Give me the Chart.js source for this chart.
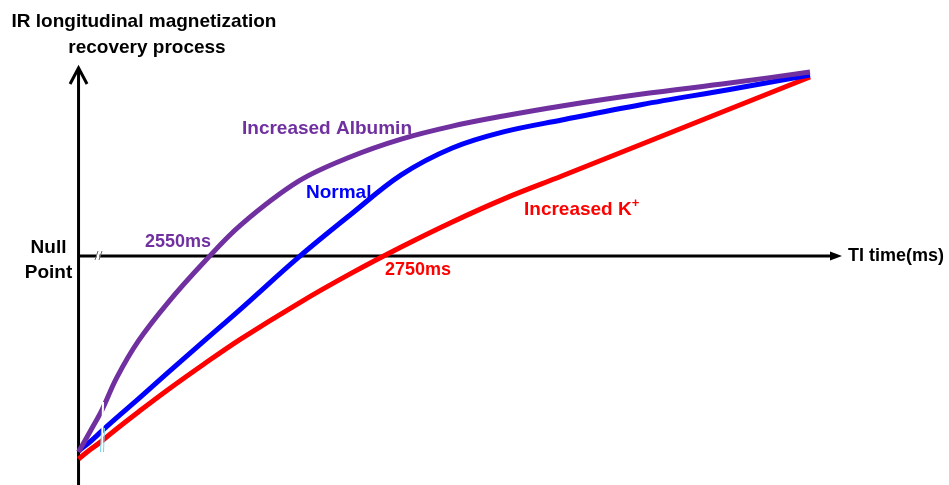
<!DOCTYPE html>
<html>
<head>
<meta charset="utf-8">
<script src="https://cdn.jsdelivr.net/npm/chart.js@4/dist/chart.umd.min.js"></script>
<style>
  html, body { margin: 0; padding: 0; background: #ffffff; }
  #wrap { width: 949px; height: 485px; position: relative; }
</style>
</head>
<body>
<div id="wrap"><canvas id="c" width="949" height="485"></canvas></div>
<script>
// TI time (arbitrary units, 0 = start of the axis, 100 = end of recovery shown)
const tiTime = [-0.2, 1.5, 3, 5, 8, 12, 17, 22, 30, 37, 44, 51, 58, 66, 77, 89, 100];
// Longitudinal magnetization (0 = null point, 1 = end of curves)
const albumin = [-1.071, -0.951, -0.842, -0.667, -0.464, -0.257, -0.033, 0.169, 0.410, 0.541, 0.639, 0.710, 0.765, 0.820, 0.885, 0.945, 1.005];
const normal  = [-1.066, -1.011, -0.956, -0.885, -0.781, -0.639, -0.464, -0.290, -0.005, 0.224, 0.443, 0.590, 0.678, 0.743, 0.828, 0.910, 0.989];
const kPlus   = [-1.109, -1.055, -1.011, -0.945, -0.852, -0.732, -0.590, -0.454, -0.257, -0.098, 0.049, 0.186, 0.311, 0.437, 0.612, 0.803, 0.978];

const seriesNames = ['Increased Albumin', 'Normal', 'Increased K'];
const nullLabels = ['2550ms', '2750ms'];

const PURPLE = '#7030A0', BLUE = '#0000FF', RED = '#FF0000';
const FONT = '"Liberation Sans", Arial, sans-serif';

function pts(ys) { return tiTime.map((x, i) => ({ x: x, y: ys[i] })); }

const decor = {
  id: 'decor',
  beforeDatasetsDraw(chart) {
    const ctx = chart.ctx, xs = chart.scales.x, ys = chart.scales.y;
    const x0 = xs.getPixelForValue(-0.2), y0 = ys.getPixelForValue(0);
    ctx.save();
    ctx.strokeStyle = '#000'; ctx.fillStyle = '#000';
    ctx.lineWidth = 3; ctx.lineCap = 'butt';
    // y axis
    ctx.beginPath(); ctx.moveTo(x0, chart.height); ctx.lineTo(x0, 68); ctx.stroke();
    // y arrow head (chevron)
    ctx.lineJoin = 'miter';
    ctx.beginPath(); ctx.moveTo(x0 - 8.5, 84); ctx.lineTo(x0, 68); ctx.lineTo(x0 + 8.5, 84); ctx.stroke();
    // x axis
    ctx.beginPath(); ctx.moveTo(x0, y0); ctx.lineTo(833, y0); ctx.stroke();
    ctx.beginPath(); ctx.moveTo(842, y0); ctx.lineTo(830, y0 - 4.5); ctx.lineTo(830, y0 + 4.5); ctx.closePath(); ctx.fill();
    // axis break //
    ctx.fillStyle = '#fff';
    ctx.fillRect(96.5, y0 - 3, 3, 6);
    ctx.strokeStyle = '#666'; ctx.lineWidth = 1;
    ctx.beginPath(); ctx.moveTo(95, y0 + 4); ctx.lineTo(98, y0 - 5); ctx.stroke();
    ctx.beginPath(); ctx.moveTo(99, y0 + 4); ctx.lineTo(102, y0 - 5); ctx.stroke();
    ctx.restore();
  },
  afterDatasetsDraw(chart) {
    const ctx = chart.ctx;
    ctx.save();
    // curve break
    ctx.fillStyle = '#fff';
    ctx.beginPath();
    ctx.moveTo(101, 455); ctx.lineTo(103, 455); ctx.lineTo(104, 402); ctx.lineTo(102, 402); ctx.closePath(); ctx.fill();
    ctx.strokeStyle = '#6fd6f0'; ctx.lineWidth = 1;
    ctx.beginPath(); ctx.moveTo(100.5, 452); ctx.lineTo(101.5, 428); ctx.stroke();
    ctx.beginPath(); ctx.moveTo(103.5, 452); ctx.lineTo(104.5, 428); ctx.stroke();

    ctx.textBaseline = 'alphabetic';
    // title
    ctx.fillStyle = '#000';
    ctx.font = 'bold 19px ' + FONT;
    ctx.textAlign = 'center';
    ctx.fillText('IR longitudinal magnetization', 144, 27);
    ctx.fillText('recovery process', 147, 53);
    ctx.fillText('Null', 48.5, 253);
    ctx.fillText('Point', 48.5, 278);
    ctx.textAlign = 'left';
    ctx.font = 'bold 18px ' + FONT;
    ctx.fillText('TI time(ms)', 848, 261);

    // series labels
    ctx.font = 'bold 19px ' + FONT;
    ctx.fillStyle = PURPLE; ctx.fillText(seriesNames[0], 242, 134);
    ctx.fillStyle = BLUE; ctx.fillText(seriesNames[1], 306, 198);
    ctx.fillStyle = RED; ctx.fillText(seriesNames[2], 524, 215);
    const w = ctx.measureText(seriesNames[2]).width;
    ctx.font = 'bold 13px ' + FONT;
    ctx.fillText('+', 524 + w, 207);

    ctx.font = 'bold 18px ' + FONT;
    ctx.fillStyle = PURPLE; ctx.fillText(nullLabels[0], 145, 247);
    ctx.fillStyle = RED; ctx.fillText(nullLabels[1], 385, 275);
    ctx.restore();
  }
};

new Chart(document.getElementById('c'), {
  type: 'line',
  data: {
    datasets: [
      { label: seriesNames[0], data: pts(albumin), borderColor: PURPLE, order: 1 },
      { label: seriesNames[1], data: pts(normal), borderColor: BLUE, order: 2 },
      { label: seriesNames[2], data: pts(kPlus), borderColor: RED, order: 3 }
    ]
  },
  options: {
    responsive: false,
    devicePixelRatio: 1,
    animation: false,
    layout: { padding: 0 },
    elements: {
      line: { borderWidth: 5, tension: 0.35, fill: false, borderCapStyle: 'butt' },
      point: { radius: 0, hoverRadius: 0 }
    },
    scales: {
      x: { type: 'linear', min: -10.959, max: 119.041, display: false },
      y: { type: 'linear', min: -1.2514, max: 1.3989, display: false }
    },
    plugins: { legend: { display: false }, tooltip: { enabled: false } }
  },
  plugins: [decor]
});
</script>
</body>
</html>
